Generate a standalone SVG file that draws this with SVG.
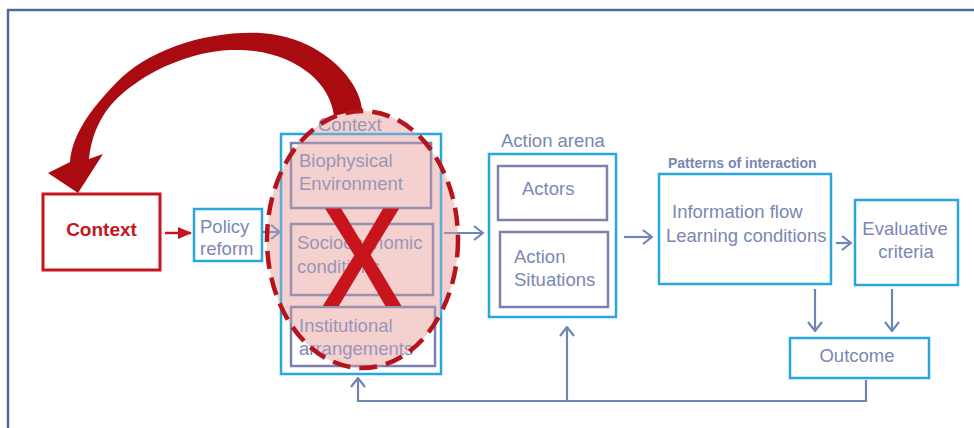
<svg xmlns="http://www.w3.org/2000/svg" width="974" height="428" viewBox="0 0 974 428">
  <style>
    .t { font-family: "Liberation Sans", Arial, sans-serif; font-size: 18.5px; fill: #7a87b3; }
    .lbl { font-family: "Liberation Sans", Arial, sans-serif; font-size: 14px; font-weight: bold; fill: #7a87b3; }
    .outer { fill: none; stroke: #2aa6df; stroke-width: 2.5; }
    .inner { fill: none; stroke: #7d80aa; stroke-width: 2.5; }
    .conn { fill: none; stroke: #6f86b5; stroke-width: 2.2; }
  </style>
  <defs>
    <marker id="chev" viewBox="0 0 12 16" refX="11" refY="8" markerWidth="12" markerHeight="16" markerUnits="userSpaceOnUse" orient="auto">
      <polyline points="2,1 11,8 2,15" fill="none" stroke="#6f86b5" stroke-width="2.2"/>
    </marker>
    <marker id="redHead" viewBox="0 0 14 14" refX="13" refY="7" markerWidth="14" markerHeight="14" markerUnits="userSpaceOnUse" orient="auto">
      <polygon points="0,1 14,7 0,13" fill="#c4161c"/>
    </marker>
  </defs>

  <rect width="974" height="428" fill="#ffffff"/>
  <!-- page frame (top and left edges) -->
  <path d="M8,428 V10 H974" fill="none" stroke="#4d6e9c" stroke-width="2.5"/>

  <!-- pink highlight behind the context block -->
  <ellipse cx="362.5" cy="239.5" rx="95.5" ry="128.5" fill="#f5d4d3"/>

  <!-- nodes -->
  <g id="context-external">
    <rect x="43" y="194" width="117" height="76" fill="#ffffff" stroke="#c4161c" stroke-width="3"/>
    <text x="101.5" y="236" text-anchor="middle" style="font-family: 'Liberation Sans', Arial, sans-serif; font-size: 19px; font-weight: bold; fill: #c4161c;">Context</text>
  </g>

  <g id="policy-reform">
    <rect x="194" y="209" width="68" height="52" class="outer"/>
    <text x="200" y="233" class="t">Policy</text>
    <text x="200" y="255" class="t">reform</text>
  </g>

  <g id="context">
    <text x="318" y="131" class="t">Context</text>
    <rect x="281" y="134" width="160" height="240" class="outer"/>
    <g id="biophysical">
      <rect x="291" y="143" width="140" height="65" class="inner"/>
      <text x="299" y="167" class="t">Biophysical</text>
      <text x="299" y="190" class="t">Environment</text>
    </g>
    <g id="socioeconomic">
      <rect x="291" y="224" width="142" height="71" class="inner"/>
      <text x="297" y="249" class="t">Socioeconomic</text>
      <text x="297" y="273" class="t">conditions</text>
    </g>
    <g id="institutional">
      <rect x="291" y="307" width="144" height="59" class="inner"/>
      <text x="299" y="332" class="t">Institutional</text>
      <text x="299" y="355" class="t">arrangements</text>
    </g>
  </g>

  <g id="action-arena">
    <text x="501" y="147" class="t">Action arena</text>
    <rect x="489" y="154" width="127" height="163" class="outer"/>
    <g id="actors">
      <rect x="498" y="166" width="109" height="54" class="inner"/>
      <text x="522" y="195" class="t">Actors</text>
    </g>
    <g id="action-situations">
      <rect x="500" y="232" width="108" height="75" class="inner"/>
      <text x="514" y="263" class="t">Action</text>
      <text x="514" y="286" class="t">Situations</text>
    </g>
  </g>

  <g id="patterns">
    <text x="668" y="168" class="lbl">Patterns of interaction</text>
    <rect x="659" y="174" width="172" height="110" class="outer"/>
    <text x="672" y="218" class="t">Information flow</text>
    <text x="666" y="242" class="t">Learning conditions</text>
  </g>

  <g id="evaluative">
    <rect x="855" y="200" width="103" height="85" class="outer"/>
    <text x="905" y="235" text-anchor="middle" class="t">Evaluative</text>
    <text x="906" y="258" text-anchor="middle" class="t">criteria</text>
  </g>

  <g id="outcome">
    <rect x="790" y="338" width="139" height="40" class="outer"/>
    <text x="857" y="362" text-anchor="middle" class="t">Outcome</text>
  </g>

  <!-- connectors -->
  <g id="connectors">
    <line x1="165" y1="233" x2="191" y2="233" stroke="#c4161c" stroke-width="2.5" marker-end="url(#redHead)"/>
    <line x1="263" y1="232" x2="280" y2="232" class="conn" marker-end="url(#chev)"/>
    <line x1="444" y1="233" x2="483" y2="233" class="conn" marker-end="url(#chev)"/>
    <line x1="624" y1="237" x2="652" y2="237" class="conn" marker-end="url(#chev)"/>
    <line x1="836" y1="243" x2="851" y2="243" class="conn" marker-end="url(#chev)"/>
    <line x1="815" y1="289" x2="815" y2="331" class="conn" marker-end="url(#chev)"/>
    <line x1="892" y1="289" x2="892" y2="331" class="conn" marker-end="url(#chev)"/>
    <polyline points="866,380 866,401 358,401 358,378" class="conn" marker-end="url(#chev)"/>
    <line x1="567" y1="401" x2="567" y2="327" class="conn" marker-end="url(#chev)"/>
  </g>

  <!-- curved feedback arrow -->
  <path d="M334,116 L362,109 C360,80 320,36 260,33 C205,31 148,50 116,83 C90,110 72,135 70,162 L48,173 L78,193 L103,154 L89,159 C92,130 105,108 123,93 C150,70 190,52 230,50 C290,48 330,80 334,116 Z" fill="#aa0b10"/>

  <!-- crossed-out highlight: dashed outline and cross -->
  <ellipse cx="362.5" cy="239.5" rx="95.5" ry="128.5" fill="#f2c2c2" fill-opacity="0.25" stroke="#b5141b" stroke-width="4.5" stroke-dasharray="18 9"/>
  <text transform="translate(362,304) scale(0.85,1)" text-anchor="middle" style="font-family: 'Liberation Sans', Arial, sans-serif; font-size: 136px; fill: #c8141c; stroke: #c8141c; stroke-width: 4;">X</text>
</svg>
